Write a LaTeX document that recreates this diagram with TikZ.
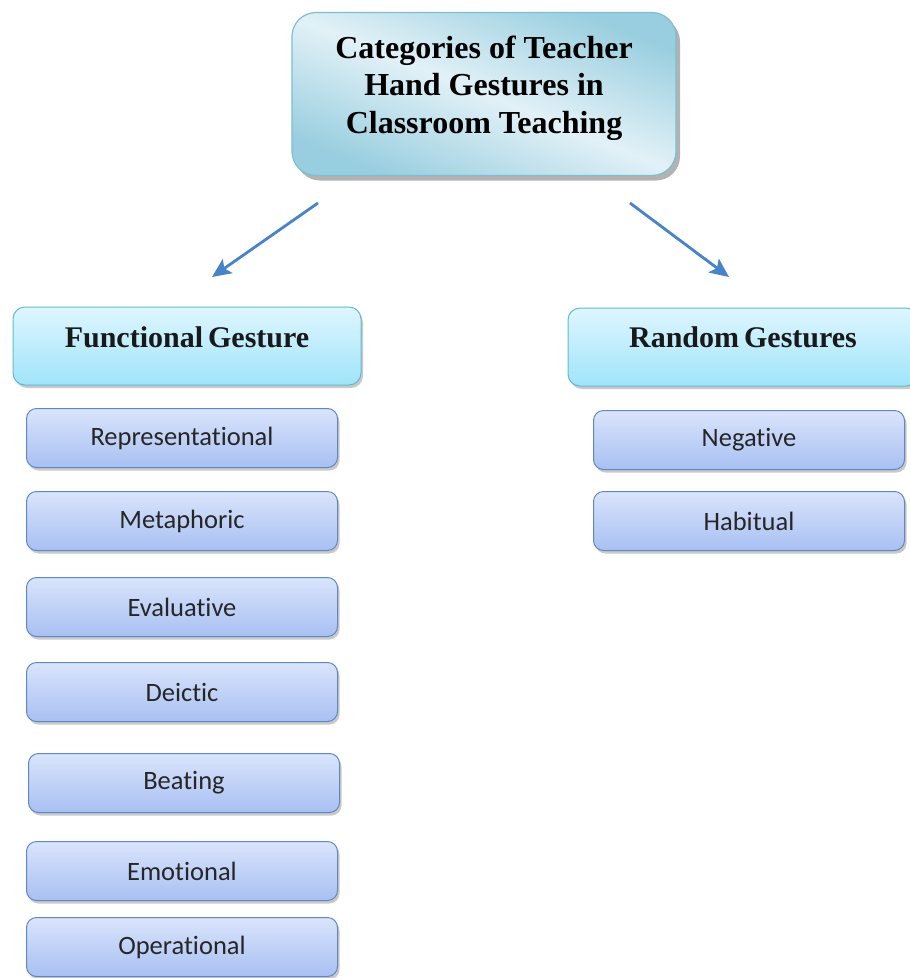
\documentclass[tikz,border=0pt]{standalone}
\usepackage{fontspec}
\setmainfont{Liberation Serif}
\newfontfamily\calib[Ligatures={NoCommon}]{Carlito}
\usetikzlibrary{shadows,calc,arrows.meta}
\definecolor{titleA}{RGB}{152,206,223}
\definecolor{titleB}{RGB}{226,241,247}
\definecolor{titleBorder}{RGB}{125,190,210}
\definecolor{catTop}{RGB}{222,246,255}
\definecolor{catBot}{RGB}{160,228,250}
\definecolor{catBorder}{RGB}{100,185,205}
\definecolor{subTop}{RGB}{218,228,252}
\definecolor{subBot}{RGB}{168,192,242}
\definecolor{subBorder}{RGB}{95,135,195}
\definecolor{arrowBlue}{RGB}{72,130,200}
\tikzset{
  titlebox/.style={draw=titleBorder, line width=1.2pt, rounded corners=24pt,
    top color=titleA, bottom color=titleA, middle color=titleB, shading angle=-22,
    minimum width=384pt, minimum height=163pt,
    drop shadow={shadow xshift=4pt, shadow yshift=-5pt, opacity=0.55, fill=black!55}},
  catbox/.style={draw=catBorder, line width=1pt, rounded corners=12pt,
    top color=catTop, bottom color=catBot,
    minimum height=78pt,
    drop shadow={shadow xshift=2pt, shadow yshift=-3pt, opacity=0.35, fill=black!60}},
  subbox/.style={draw=subBorder, line width=1pt, rounded corners=10pt,
    top color=subTop, bottom color=subBot,
    minimum width=311pt, minimum height=59pt,
    drop shadow={shadow xshift=2pt, shadow yshift=-3pt, opacity=0.35, fill=black!60},
    font=\calib\fontsize{26.5}{30}\selectfont, text=black!85},
  cattext/.style={font=\bfseries\fontsize{30}{34}\selectfont, text=black!90},
  conn/.style={draw=arrowBlue, line width=2.8pt, -{Stealth[length=19pt,width=17pt,inset=4pt]}}
}
\begin{document}
\begin{tikzpicture}[x=1pt,y=-1pt]
\useasboundingbox (0,0) rectangle (910,978);
\fill[white] (0,0) rectangle (910,978);
% title
\node[titlebox] (title) at (484,94) {};
\node[font=\bfseries\fontsize{32}{37.5}\selectfont, align=center, text=black] (titletext) at (484,88)
  {Categories of Teacher\\Hand Gestures in\\Classroom Teaching};
% categories
\node[catbox, minimum width=348pt] (func) at (187,346) {};
\node[cattext] (functext) at (187,337) {Functional\,Gesture};
\node[catbox, minimum width=350pt] (rand) at (743,347) {};
\node[cattext] (randtext) at (743,337) {Random\,Gestures};
% arrows
\coordinate (la) at (318,203);
\coordinate (lb) at (212,277);
\coordinate (ra) at (630,203);
\coordinate (rb) at (729,277);
\draw[conn] (la) -- (lb);
\draw[conn] (ra) -- (rb);
% functional subitems
\node[subbox] (s1) at (182,438) {Representational};
\node[subbox] (s2) at (182,521) {Metaphoric};
\node[subbox] (s3) at (182,607) {Evaluative};
\node[subbox] (s4) at (182,692) {Deictic};
\node[subbox] (s5) at (184,783) {Beating};
\node[subbox] (s6) at (182,871) {Emotional};
\node[subbox] (s7) at (182,947) {Operational};
% random subitems
\node[subbox] (r1) at (749,440) {Negative};
\node[subbox] (r2) at (749,521) {Habitual};
\end{tikzpicture}
\end{document}
